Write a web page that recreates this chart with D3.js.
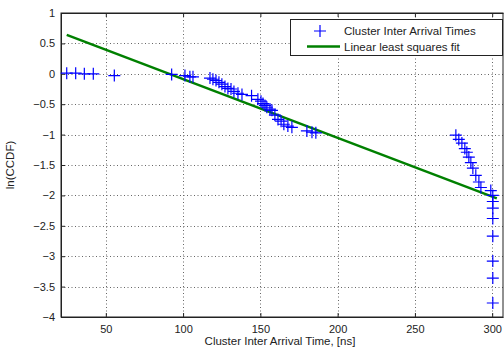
<!DOCTYPE html>
<html>
<head>
<meta charset="utf-8">
<script src="https://cdn.jsdelivr.net/npm/d3@7"></script>
<style>
  html, body { margin: 0; padding: 0; background: #fff; }
  svg { display: block; font-family: "Liberation Sans", Arial, sans-serif; }
</style>
</head>
<body>
<svg id="chart" width="504" height="351"></svg>
<script>
// Cluster inter arrival times [ns] and ln(CCDF)
const arrivalTime = [
  24.7, 30.5, 36.1, 41.9, 55.5,
  92.6, 101.2, 104.4, 106.4,
  117.4, 119.3, 121.3, 123.2, 125.1, 127.1, 129.0, 131.0, 132.9, 135.5, 138.1, 144.3,
  148.4, 150.4, 151.7, 153.0, 154.2, 156.2, 157.5, 159.4, 161.4, 163.4, 165.2, 167.8, 170.4, 180.1, 183.4, 185.9,
  276.5, 278.4, 280.4, 282.3, 283.6, 284.9, 286.2, 287.5, 289.4, 291.4, 292.7,
  299.1, 300.4, 300.4, 300.4, 300.4, 300.4, 300.4, 300.4, 300.4
];
const lnCCDF = [
  0.01, 0.01, 0.0, 0.0, -0.03,
  -0.01, -0.03, -0.05, -0.05,
  -0.07, -0.09, -0.11, -0.14, -0.17, -0.21, -0.24, -0.25, -0.29, -0.32, -0.34, -0.36,
  -0.42, -0.45, -0.49, -0.52, -0.55, -0.58, -0.60, -0.68, -0.75, -0.78, -0.83, -0.86, -0.88, -0.94, -0.96, -0.97,
  -1.01, -1.08, -1.14, -1.23, -1.29, -1.37, -1.46, -1.55, -1.67, -1.78, -1.87,
  -1.92, -2.00, -2.10, -2.21, -2.38, -2.67, -3.08, -3.36, -3.77
];

// Linear least squares fit end points
const fitX = [24.7, 303];
const fitY = [0.64, -2.05];

const xTicks = [50, 100, 150, 200, 250, 300];
const yTicks = [1, 0.5, 0, -0.5, -1, -1.5, -2, -2.5, -3, -3.5, -4];
const legendLabels = ["Cluster Inter Arrival Times", "Linear least squares fit"];

const plot = { left: 61, top: 13, right: 503, bottom: 317 };

const x = d3.scaleLinear().domain([21, 307]).range([plot.left, plot.right]);
const y = d3.scaleLinear().domain([-4, 1]).range([plot.bottom, plot.top]);

const svg = d3.select("#chart");

// grid
const grid = svg.append("g").attr("stroke", "#666").attr("stroke-width", 1)
  .attr("stroke-dasharray", "1,2.5");
grid.selectAll("line.vx").data(xTicks).join("line")
  .attr("x1", d => Math.round(x(d)) + 0.5).attr("x2", d => Math.round(x(d)) + 0.5)
  .attr("y1", plot.top).attr("y2", plot.bottom);
grid.selectAll("line.hy").data(yTicks.filter(d => d > -4 && d < 1)).join("line")
  .attr("y1", d => Math.round(y(d)) + 0.5).attr("y2", d => Math.round(y(d)) + 0.5)
  .attr("x1", plot.left).attr("x2", plot.right);

// axes
const xAxis = d3.axisBottom(x).tickValues(xTicks).tickSizeInner(-4).tickSizeOuter(0).tickPadding(8);
const yAxis = d3.axisLeft(y).tickValues(yTicks).tickFormat(d3.format("")).tickSizeInner(-4).tickSizeOuter(0).tickPadding(6);

const gx = svg.append("g").attr("transform", `translate(0,${plot.bottom})`).call(xAxis);
const gy = svg.append("g").attr("transform", `translate(${plot.left},0)`).call(yAxis);
const gxTop = svg.append("g").attr("transform", `translate(0,${plot.top})`)
  .call(d3.axisTop(x).tickValues(xTicks).tickSizeInner(-4).tickSizeOuter(0).tickFormat(""));

[gx, gy, gxTop].forEach(g => {
  g.select(".domain").attr("stroke", "#222");
  g.selectAll(".tick line").attr("stroke", "#222");
  g.selectAll(".tick text").attr("fill", "#222").attr("font-size", 11)
    .attr("font-family", "Liberation Sans, Arial, sans-serif");
});

// box
svg.append("rect")
  .attr("x", plot.left).attr("y", plot.top)
  .attr("width", plot.right - plot.left).attr("height", plot.bottom - plot.top)
  .attr("fill", "none").attr("stroke", "#222").attr("stroke-width", 1);

// fit line
svg.append("line")
  .attr("x1", x(fitX[0])).attr("y1", y(fitY[0]))
  .attr("x2", x(fitX[1])).attr("y2", y(fitY[1]))
  .attr("stroke", "#008000").attr("stroke-width", 2.5);

// plus markers
const pts = arrivalTime.map((t, i) => [t, lnCCDF[i]]);
const m = 6;
svg.append("g").selectAll("path").data(pts).join("path")
  .attr("d", d => {
    const cx = x(d[0]), cy = y(d[1]);
    return `M${cx - m},${cy}H${cx + m}M${cx},${cy - m}V${cy + m}`;
  })
  .attr("stroke", "#0000ff").attr("stroke-width", 1.2).attr("fill", "none");

// axis labels
svg.append("text").attr("x", (plot.left + plot.right) / 2 - 2).attr("y", 345)
  .attr("text-anchor", "middle").attr("font-size", 11.5).attr("fill", "#222")
  .text("Cluster Inter Arrival Time, [ns]");
svg.append("text").attr("transform", `translate(14,${(plot.top + plot.bottom) / 2}) rotate(-90)`)
  .attr("text-anchor", "middle").attr("font-size", 11.5).attr("fill", "#222")
  .text("ln(CCDF)");

// legend
const lg = svg.append("g");
lg.append("rect").attr("x", 290.5).attr("y", 19.5).attr("width", 212).attr("height", 36)
  .attr("fill", "#fff").attr("stroke", "#222");
lg.append("path")
  .attr("d", `M${320 - m},31H${320 + m}M320,${31 - m}V${31 + m}`)
  .attr("stroke", "#0000ff").attr("stroke-width", 1.2);
lg.append("line").attr("x1", 307).attr("x2", 340).attr("y1", 46.5).attr("y2", 46.5)
  .attr("stroke", "#008000").attr("stroke-width", 2.5);
lg.selectAll("text").data(legendLabels).join("text")
  .attr("x", 344).attr("y", (d, i) => 35 + i * 15.5)
  .attr("font-size", 11.5).attr("fill", "#222").text(d => d);
</script>
</body>
</html>
